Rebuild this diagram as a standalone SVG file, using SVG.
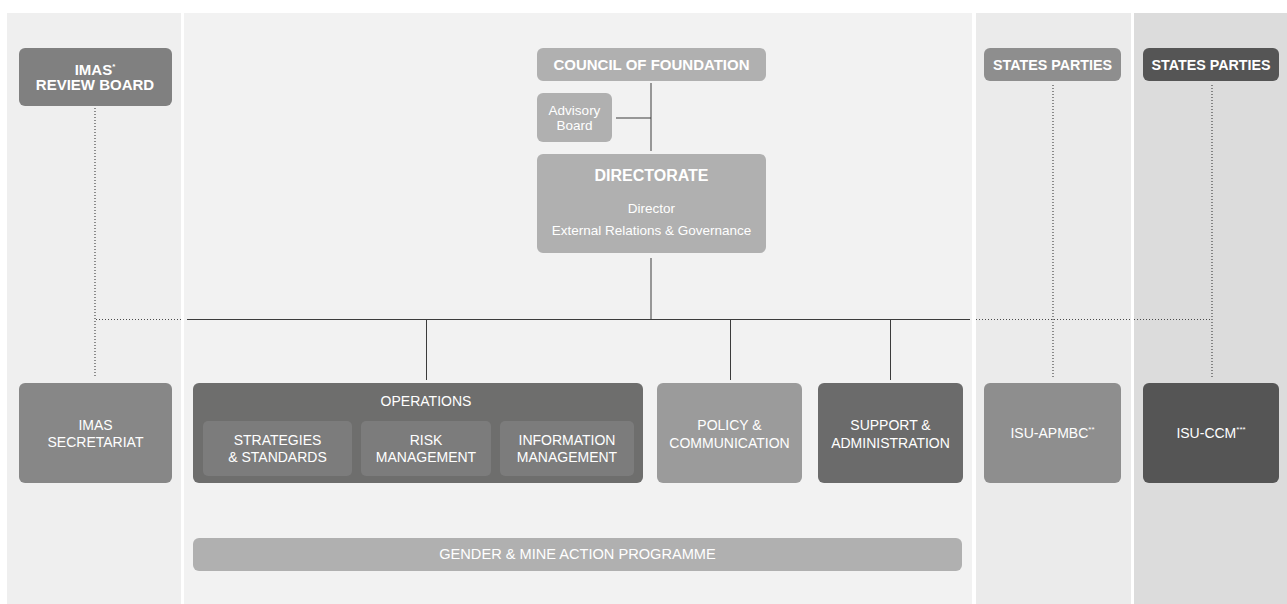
<svg xmlns="http://www.w3.org/2000/svg" width="1287" height="604" viewBox="0 0 1287 604">
<style>
text{font-family:"Liberation Sans",Arial,sans-serif;fill:#ffffff;text-anchor:middle}
.b{font-weight:bold;font-size:15px}
.r{font-size:14px}
.s{font-size:13.5px}
.sup{font-size:8px}
.solid{stroke:#3c3c3c;stroke-width:1;fill:none}
.dot{stroke:#4a4a4a;stroke-width:1.2;stroke-dasharray:1 2;fill:none}
</style>
<rect x="0" y="0" width="1287" height="604" fill="#ffffff"/>
<g id="panels">
<rect x="7" y="13" width="174" height="591" fill="#efefef"/>
<rect x="184" y="13" width="788" height="591" fill="#f2f2f2"/>
<rect x="976" y="13" width="155" height="591" fill="#ebebeb"/>
<rect x="1134" y="13" width="153" height="591" fill="#dcdcdc"/>
</g>
<g id="connectors">
<line class="solid" x1="651" y1="83" x2="651" y2="151"/>
<line class="solid" x1="616" y1="118" x2="651" y2="118"/>
<line class="solid" x1="651" y1="258" x2="651" y2="319"/>
<line class="solid" x1="187" y1="319.5" x2="970" y2="319.5"/>
<line class="solid" x1="426.5" y1="319" x2="426.5" y2="380"/>
<line class="solid" x1="730.5" y1="319" x2="730.5" y2="380"/>
<line class="solid" x1="890.5" y1="319" x2="890.5" y2="380"/>
<line class="dot" x1="95" y1="108" x2="95" y2="378"/>
<line class="dot" x1="96" y1="319.5" x2="181" y2="319.5"/>
<line class="dot" x1="976" y1="319.5" x2="1131" y2="319.5"/>
<line class="dot" x1="1134" y1="319.5" x2="1212" y2="319.5"/>
<line class="dot" x1="1053" y1="85" x2="1053" y2="378"/>
<line class="dot" x1="1212" y1="85" x2="1212" y2="378"/>
</g>
<g id="imas-review-board">
<rect x="19" y="48" width="153" height="58" rx="6" fill="#808080"/>
<text class="b" x="95" y="75">IMAS<tspan class="sup" dy="-6">*</tspan></text>
<text class="b" x="95" y="90">REVIEW BOARD</text>
</g>
<g id="imas-secretariat">
<rect x="19" y="383" width="153" height="100" rx="6" fill="#878787"/>
<text class="r" x="95.5" y="430">IMAS</text>
<text class="r" x="95.5" y="447">SECRETARIAT</text>
</g>
<g id="council-of-foundation">
<rect x="537" y="48" width="229" height="33" rx="6" fill="#b0b0b0"/>
<text class="b" x="651.5" y="70">COUNCIL OF FOUNDATION</text>
</g>
<g id="advisory-board">
<rect x="537" y="93" width="75" height="49" rx="6" fill="#b0b0b0"/>
<text class="s" x="574.5" y="115">Advisory</text>
<text class="s" x="574.5" y="130">Board</text>
</g>
<g id="directorate">
<rect x="537" y="154" width="229" height="99" rx="6" fill="#b0b0b0"/>
<text class="b" x="651.5" y="181" style="font-size:16px">DIRECTORATE</text>
<text class="s" x="651.5" y="213">Director</text>
<text class="s" x="651.5" y="235">External Relations &amp; Governance</text>
</g>
<g id="operations">
<rect x="193" y="383" width="450" height="100" rx="6" fill="#6e6e6d"/>
<text class="r" x="426" y="406">OPERATIONS</text>
<rect x="203" y="421" width="149" height="55" rx="5" fill="#7c7c7c"/>
<text class="r" x="277.5" y="445">STRATEGIES</text>
<text class="r" x="277.5" y="462">&amp; STANDARDS</text>
<rect x="361" y="421" width="130" height="55" rx="5" fill="#7c7c7c"/>
<text class="r" x="426" y="445">RISK</text>
<text class="r" x="426" y="462">MANAGEMENT</text>
<rect x="500" y="421" width="134" height="55" rx="5" fill="#7c7c7c"/>
<text class="r" x="567" y="445">INFORMATION</text>
<text class="r" x="567" y="462">MANAGEMENT</text>
</g>
<g id="policy-communication">
<rect x="657" y="383" width="145" height="100" rx="6" fill="#9b9b9b"/>
<text class="r" x="729.5" y="430">POLICY &amp;</text>
<text class="r" x="729.5" y="448">COMMUNICATION</text>
</g>
<g id="support-administration">
<rect x="818" y="383" width="145" height="100" rx="6" fill="#6b6b6b"/>
<text class="r" x="890.5" y="430">SUPPORT &amp;</text>
<text class="r" x="890.5" y="448">ADMINISTRATION</text>
</g>
<g id="states-parties-1">
<rect x="984" y="48" width="137" height="33" rx="6" fill="#8e8e8e"/>
<text class="b" x="1052.5" y="70" style="font-size:14.3px">STATES PARTIES</text>
</g>
<g id="states-parties-2">
<rect x="1143" y="48" width="136" height="33" rx="6" fill="#555555"/>
<text class="b" x="1211" y="70" style="font-size:14.3px">STATES PARTIES</text>
</g>
<g id="isu-apmbc">
<rect x="984" y="383" width="137" height="100" rx="6" fill="#8e8e8e"/>
<text class="r" x="1052.5" y="438">ISU-APMBC<tspan class="sup" dy="-6">**</tspan></text>
</g>
<g id="isu-ccm">
<rect x="1143" y="383" width="136" height="100" rx="6" fill="#555555"/>
<text class="r" x="1211" y="438">ISU-CCM<tspan class="sup" dy="-6">***</tspan></text>
</g>
<g id="gender-programme">
<rect x="193" y="538" width="769" height="33" rx="6" fill="#b0b0b0"/>
<text class="r" x="577.5" y="559" style="font-size:14.6px">GENDER &amp; MINE ACTION PROGRAMME</text>
</g>
</svg>
